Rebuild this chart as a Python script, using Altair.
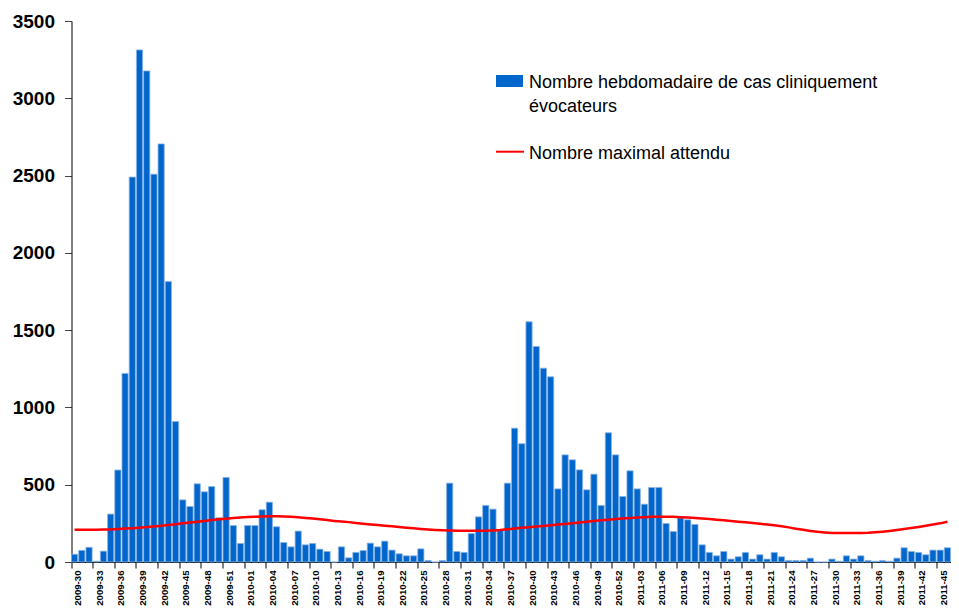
import altair as alt
import pandas as pd

weeks = ([f"2009-{w:02d}" for w in range(30, 54)]
         + [f"2010-{w:02d}" for w in range(1, 53)]
         + [f"2011-{w:02d}" for w in range(1, 47)])

cases_2009 = [50, 75, 95, 5, 70, 310, 595, 1220, 2490, 3313,
              3177, 2509, 2705, 1814, 909, 402, 359, 506, 454, 488,
              286, 547, 236, 120]
cases_2010 = [236, 236, 338, 387, 228, 126, 98, 200, 111, 120,
              83, 68, 0, 98, 27, 62, 74, 122, 98, 135,
              77, 53, 40, 40, 85, 10, 0, 10, 510, 68,
              62, 184, 292, 366, 342, 204, 510, 866, 765, 1554,
              1394, 1254, 1198, 473, 693, 661, 596, 467, 568, 366,
              836, 693]
cases_2011 = [424, 590, 473, 374, 482, 482, 249, 197, 286, 273,
              243, 111, 62, 40, 68, 19, 34, 62, 19, 47,
              19, 62, 34, 10, 10, 10, 25, 0, 0, 19,
              5, 40, 19, 40, 10, 5, 10, 5, 25, 92,
              68, 62, 47, 77, 77, 92]
cases = cases_2009 + cases_2010 + cases_2011

expected = [208, 208, 209, 209, 210, 211, 213, 216, 219, 222,
            226, 230, 234, 239, 244, 250, 256, 261, 266, 271,
            276, 280, 284, 288, 291, 293, 295, 296, 296, 294,
            292, 289, 285, 281, 276, 271, 266, 262, 258, 253,
            248, 243, 239, 235, 231, 227, 222, 218, 214, 210,
            207, 205, 203, 202, 202, 202, 202, 202, 204, 207,
            212, 217, 221, 225, 229, 233, 237, 242, 246, 251,
            256, 260, 265, 270, 274, 278, 282, 285, 288, 290,
            292, 293, 293, 292, 290, 288, 285, 282, 278, 274,
            270, 266, 261, 257, 252, 247, 242, 237, 231, 224,
            215, 208, 201, 195, 191, 188, 188, 188, 188, 188,
            189, 192, 196, 201, 207, 213, 220, 227, 234, 242,
            250, 260]

tick_weeks = weeks[::3]
y_ticks = [0, 500, 1000, 1500, 2000, 2500, 3000, 3500]

legend_bar_label = ["Nombre hebdomadaire de cas cliniquement", "évocateurs"]
legend_line_label = "Nombre maximal attendu"

df = pd.DataFrame({"semaine": weeks, "cas": cases, "attendu": expected})

FONT = "Liberation Sans"
BLUE = "#0066CC"
RED = "#FF0000"

x_enc = alt.X(
    "semaine:N", sort=None,
    scale=alt.Scale(paddingInner=0.14, paddingOuter=0),
    axis=alt.Axis(
        values=tick_weeks, title=None, labelAngle=270, bandPosition=0,
        labelOffset=3.6, tickSize=6, tickColor="black", domainColor="black",
        labelFont=FONT, labelFontWeight="bold", labelFontSize=9.6,
        labelColor="black", labelPadding=2, labelAlign="right",
        labelBaseline="middle", grid=False,
    ),
)
y_scale = alt.Scale(domain=[0, 3500], nice=False)

bars = alt.Chart(df).mark_bar(
    color=BLUE, stroke="#8AB4E6", strokeWidth=0.8
).encode(
    x=x_enc,
    y=alt.Y("cas:Q", scale=y_scale, axis=alt.Axis(
        values=y_ticks, format="d", title=None, grid=False, tickSize=7,
        tickColor="#444", domainColor="black", labelFont=FONT,
        labelFontWeight="bold", labelFontSize=19, labelColor="black",
        labelPadding=10)),
)

line = alt.Chart(df).mark_line(color=RED, strokeWidth=2.5).encode(
    x=alt.X("semaine:N", sort=None),
    y=alt.Y("attendu:Q", scale=y_scale),
)

one = alt.Data(values=[{}])
leg_rect = alt.Chart(one).mark_rect(color=BLUE).encode(
    x=alt.value(424.5), x2=alt.value(451.5), y=alt.value(54), y2=alt.value(66))
leg_t1 = alt.Chart(one).mark_text(
    align="left", baseline="alphabetic", font=FONT, fontSize=18, color="black"
).encode(x=alt.value(457.5), y=alt.value(67), text=alt.value(legend_bar_label[0]))
leg_t2 = alt.Chart(one).mark_text(
    align="left", baseline="alphabetic", font=FONT, fontSize=18, color="black"
).encode(x=alt.value(457.5), y=alt.value(90.5), text=alt.value(legend_bar_label[1]))
leg_rule = alt.Chart(one).mark_rule(color=RED, strokeWidth=2).encode(
    x=alt.value(424.5), x2=alt.value(452.5), y=alt.value(130.7))
leg_t3 = alt.Chart(one).mark_text(
    align="left", baseline="alphabetic", font=FONT, fontSize=18, color="black"
).encode(x=alt.value(457.5), y=alt.value(138), text=alt.value(legend_line_label))

chart = alt.layer(bars, line, leg_rect, leg_t1, leg_t2, leg_rule, leg_t3).properties(
    width=879, height=541,
    autosize=alt.AutoSizeParams(type="none"),
    padding={"left": 63.5, "top": 13, "right": 0, "bottom": 45},
    background="white",
).configure_view(stroke=None)

chart.save("out.html", embed_options={"renderer": "svg", "actions": False})
